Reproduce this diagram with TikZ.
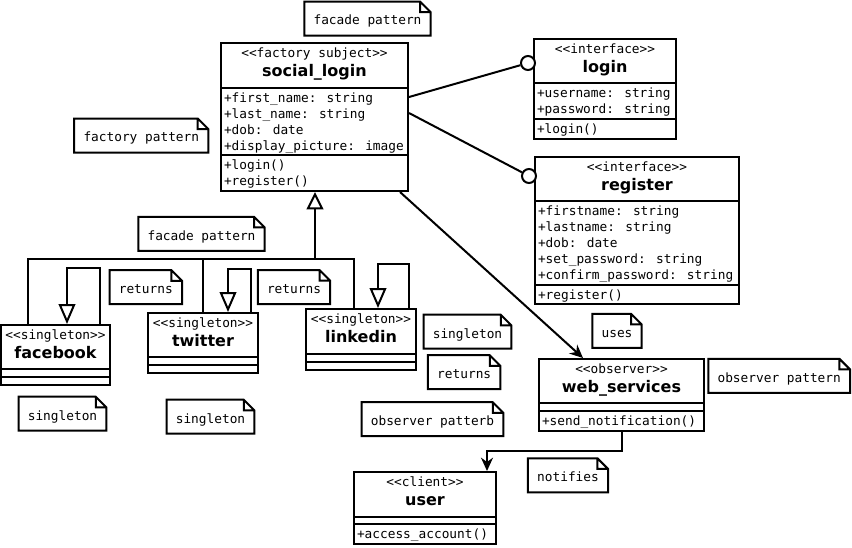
\documentclass[tikz,border=0pt]{standalone}
\usepackage{fontspec}
\usetikzlibrary{arrows.meta,fit,calc}

\newfontfamily\monofont{DejaVu Sans Mono}
\newfontfamily\headfont{DejaVu Sans}
\newcommand{\memberfont}{\monofont\fontsize{9.6pt}{12pt}\selectfont}
\newcommand{\namefont}{\headfont\bfseries\fontsize{12pt}{14pt}\selectfont}

% class box: name, left, top, right, bottom, sep1, sep2, stereotype, title
\newcommand{\umlclass}[9]{%
  \node[cls, fit={(#2,#3) (#4,#5)}] (#1) {};
  \draw (#2,#6) -- (#4,#6) (#2,#7) -- (#4,#7);
  \node[stereo] (#1-st) at ($(#1.north)+(0,15)$) {<<#8>>};
  \node[cname] (#1-nm) at ($(#1.north)+(0,34)$) {#9};
}
% member lines: prefix, left, first baseline, list
\newcommand{\members}[4]{%
  \foreach \m [count=\i] in {#4}
    \node[member] (#1-\i) at (#2+2,#3+16*\i-16) {\m};
}

\begin{document}
\begin{tikzpicture}[x=0.75pt,y=-0.75pt,line width=1.5pt,
  cls/.style={draw,inner sep=0pt},
  stereo/.style={font=\memberfont,anchor=base,inner sep=0pt},
  cname/.style={font=\namefont,anchor=base,inner sep=0pt},
  member/.style={font=\memberfont,anchor=base west,inner sep=0pt},
  note/.style={font=\memberfont,inner xsep=6.2pt,inner ysep=0pt,minimum height=24pt,
    text height=10.5pt,text depth=1pt},
  lolli/.style={draw,circle,fill=white,minimum size=10.5pt,inner sep=0pt},
  gen/.style={-{Triangle[open,length=15pt,width=12.5pt]}},
  dep/.style={-{Stealth[length=10pt,width=9pt]}}]
\useasboundingbox (0,0) rectangle (852,547);

% classes
\umlclass{social}{221}{43}{408}{191}{88}{155}{factory subject}{social\_login}
\members{social-a}{221}{102}{+first\_name: string,+last\_name: string,+dob: date,+display\_picture: image}
\members{social-m}{221}{169}{+login(),+register()}

\umlclass{login}{534}{39}{676}{139}{83}{119}{interface}{login}
\members{login-a}{534}{97}{+username: string,+password: string}
\members{login-m}{534}{133}{+login()}

\umlclass{register}{535}{157}{739}{304}{201}{285}{interface}{register}
\members{register-a}{535}{215}{+firstname: string,+lastname: string,+dob: date,+set\_password: string,+confirm\_password: string}
\members{register-m}{535}{299}{+register()}

\umlclass{facebook}{1}{325}{110}{385}{369}{377}{singleton}{facebook}
\umlclass{twitter}{148}{313}{258}{373}{357}{365}{singleton}{twitter}
\umlclass{linkedin}{306}{309}{416}{370}{354}{362}{singleton}{linkedin}

\umlclass{web}{539}{359}{704}{431}{403}{411}{observer}{web\_services}
\members{web-m}{539}{425}{+send\_notification()}

\umlclass{user}{354}{472}{496}{544}{517}{524}{client}{user}
\members{user-m}{354}{538}{+access\_account()}

% notes
\node[note] (facade1) at (367.5,18.5) {facade pattern};
\node[note] (factory) at (141.3,135.5) {factory pattern};
\node[note] (facade2) at (201.5,233.8) {facade pattern};
\node[note] (ret1) at (145.8,287.2) {returns};
\node[note] (ret2) at (294,287) {returns};
\node[note] (single3) at (467.5,331.7) {singleton};
\node[note] (ret3) at (464.2,372.2) {returns};
\node[note] (obs1) at (432.5,419.2) {observer patterb};
\node[note] (uses) at (617,330.8) {uses};
\node[note] (obs2) at (779.2,375.8) {observer pattern};
\node[note] (notifies) at (568,475.3) {notifies};
\node[note] (single1) at (62.5,413.7) {singleton};
\node[note] (single2) at (210.5,416.7) {singleton};
\foreach \n in {facade1,factory,facade2,ret1,ret2,single3,ret3,obs1,uses,obs2,notifies,single1,single2}
  \draw (\n.north west) -- ([xshift=-8pt]\n.north east) -- ([yshift=-8pt]\n.north east)
    -- (\n.south east) -- (\n.south west) -- cycle
    ([xshift=-8pt]\n.north east) |- ([yshift=-8pt]\n.north east);

% interfaces
\node[lolli] (i-login) at (528,63) {};
\node[lolli] (i-register) at (529,176) {};
\draw (social.east |- 0,97) -- (i-login);
\draw (social.east |- 0,113) -- (i-register);

% generalisation
\coordinate (bus) at (315,259);
\draw (28,0 |- facebook.north) -- (28,259) -- (354,259) -- (354,0 |- linkedin.north);
\draw (203,259) -- (203,0 |- twitter.north);
\draw[-{Triangle[open,length=13pt,width=12.5pt]}] (bus) -- (bus |- social.south);

% self loops
\draw[gen] (100,0 |- facebook.north) |- (67,268) -- (67,0 |- facebook.north);
\draw[gen] (251,0 |- twitter.north) |- (228,269) -- (228,0 |- twitter.north);
\draw[gen] (409,0 |- linkedin.north) |- (378,264) -- (378,0 |- linkedin.north);

% uses / notifies
\draw[dep] (400,0 |- social.south) -- (583,0 |- web.north);
\draw[dep] (622,0 |- web.south) |- (487,451) -- (487,0 |- user.north);
\end{tikzpicture}
\end{document}
